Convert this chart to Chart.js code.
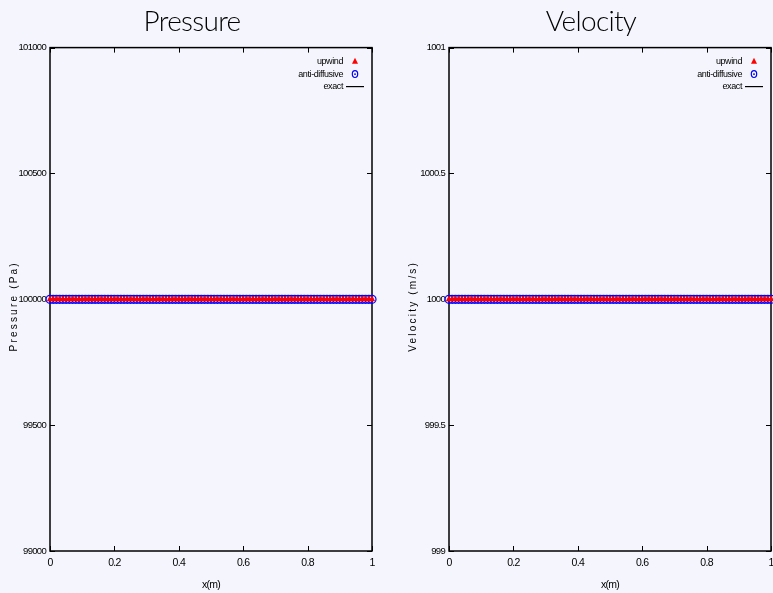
<!DOCTYPE html>
<html><head><meta charset="utf-8">
<script src="https://cdn.jsdelivr.net/npm/chart.js@4.4.1/dist/chart.umd.min.js"></script>
<style>
html,body{margin:0;padding:0;background:#f5f6fd;overflow:hidden;width:773px;height:593px;}
#wrap{position:relative;width:773px;height:593px;overflow:hidden;}
canvas{position:absolute;top:0;}
#c1{left:0px;}
#c2{left:399px;}
</style></head><body>
<div id="wrap">
<canvas id="c1" width="386" height="593"></canvas>
<canvas id="c2" width="386" height="593"></canvas>
</div>
<script>
// ---- data ----
const xGrid = [0,0.01,0.02,0.03,0.04,0.05,0.06,0.07,0.08,0.09,0.1,0.11,0.12,0.13,0.14,0.15,0.16,0.17,0.18,0.19,
0.2,0.21,0.22,0.23,0.24,0.25,0.26,0.27,0.28,0.29,0.3,0.31,0.32,0.33,0.34,0.35,0.36,0.37,0.38,0.39,
0.4,0.41,0.42,0.43,0.44,0.45,0.46,0.47,0.48,0.49,0.5,0.51,0.52,0.53,0.54,0.55,0.56,0.57,0.58,0.59,
0.6,0.61,0.62,0.63,0.64,0.65,0.66,0.67,0.68,0.69,0.7,0.71,0.72,0.73,0.74,0.75,0.76,0.77,0.78,0.79,
0.8,0.81,0.82,0.83,0.84,0.85,0.86,0.87,0.88,0.89,0.9,0.91,0.92,0.93,0.94,0.95,0.96,0.97,0.98,0.99,1];
const pressureUpwind = [100000,100000,100000,100000,100000,100000,100000,100000,100000,100000,
100000,100000,100000,100000,100000,100000,100000,100000,100000,100000,
100000,100000,100000,100000,100000,100000,100000,100000,100000,100000,
100000,100000,100000,100000,100000,100000,100000,100000,100000,100000,
100000,100000,100000,100000,100000,100000,100000,100000,100000,100000,
100000,100000,100000,100000,100000,100000,100000,100000,100000,100000,
100000,100000,100000,100000,100000,100000,100000,100000,100000,100000,
100000,100000,100000,100000,100000,100000,100000,100000,100000,100000,
100000,100000,100000,100000,100000,100000,100000,100000,100000,100000,
100000,100000,100000,100000,100000,100000,100000,100000,100000,100000,100000];
const pressureAnti = [100000,100000,100000,100000,100000,100000,100000,100000,100000,100000,
100000,100000,100000,100000,100000,100000,100000,100000,100000,100000,
100000,100000,100000,100000,100000,100000,100000,100000,100000,100000,
100000,100000,100000,100000,100000,100000,100000,100000,100000,100000,
100000,100000,100000,100000,100000,100000,100000,100000,100000,100000,
100000,100000,100000,100000,100000,100000,100000,100000,100000,100000,
100000,100000,100000,100000,100000,100000,100000,100000,100000,100000,
100000,100000,100000,100000,100000,100000,100000,100000,100000,100000,
100000,100000,100000,100000,100000,100000,100000,100000,100000,100000,
100000,100000,100000,100000,100000,100000,100000,100000,100000,100000,100000];
const exactX = [0, 1];
const pressureExact = [100000, 100000];
const velocityUpwind = [1000,1000,1000,1000,1000,1000,1000,1000,1000,1000,
1000,1000,1000,1000,1000,1000,1000,1000,1000,1000,
1000,1000,1000,1000,1000,1000,1000,1000,1000,1000,
1000,1000,1000,1000,1000,1000,1000,1000,1000,1000,
1000,1000,1000,1000,1000,1000,1000,1000,1000,1000,
1000,1000,1000,1000,1000,1000,1000,1000,1000,1000,
1000,1000,1000,1000,1000,1000,1000,1000,1000,1000,
1000,1000,1000,1000,1000,1000,1000,1000,1000,1000,
1000,1000,1000,1000,1000,1000,1000,1000,1000,1000,
1000,1000,1000,1000,1000,1000,1000,1000,1000,1000,1000];
const velocityAnti = [1000,1000,1000,1000,1000,1000,1000,1000,1000,1000,
1000,1000,1000,1000,1000,1000,1000,1000,1000,1000,
1000,1000,1000,1000,1000,1000,1000,1000,1000,1000,
1000,1000,1000,1000,1000,1000,1000,1000,1000,1000,
1000,1000,1000,1000,1000,1000,1000,1000,1000,1000,
1000,1000,1000,1000,1000,1000,1000,1000,1000,1000,
1000,1000,1000,1000,1000,1000,1000,1000,1000,1000,
1000,1000,1000,1000,1000,1000,1000,1000,1000,1000,
1000,1000,1000,1000,1000,1000,1000,1000,1000,1000,
1000,1000,1000,1000,1000,1000,1000,1000,1000,1000,1000];
const velocityExact = [1000, 1000];
const xTicks = [0, 0.2, 0.4, 0.6, 0.8, 1];
const pressureTicks = [99000, 99500, 100000, 100500, 101000];
const velocityTicks = [999, 999.5, 1000, 1000.5, 1001];
const seriesNames = ['upwind', 'anti-diffusive', 'exact'];

// ---- decoration plugin (frame, inward ticks, legend, y title) ----
const decor = {
  id: 'decor',
  beforeDraw(chart) {
    // condensed look for the axis texts
    chart.ctx.letterSpacing = '-0.7px';
  },
  beforeDatasetsDraw(chart) {
    const ctx = chart.ctx, a = chart.chartArea;
    const xs = chart.scales.x, ys = chart.scales.y;
    ctx.save();
    ctx.strokeStyle = '#000';
    ctx.lineWidth = 1;
    ctx.beginPath();
    xs.ticks.forEach(t => {
      const px = Math.round(xs.getPixelForValue(t.value)) + 0.5;
      ctx.moveTo(px, a.bottom); ctx.lineTo(px, a.bottom - 5);
      ctx.moveTo(px, a.top); ctx.lineTo(px, a.top + 5);
    });
    ys.ticks.forEach(t => {
      const py = Math.round(ys.getPixelForValue(t.value)) + 0.5;
      ctx.moveTo(a.left, py); ctx.lineTo(a.left + 5, py);
      ctx.moveTo(a.right, py); ctx.lineTo(a.right - 5, py);
    });
    ctx.stroke();
    ctx.lineWidth = 1.5;
    ctx.strokeRect(a.left, a.top, a.right - a.left, a.bottom - a.top);
    ctx.restore();
  },
  afterDraw(chart, args, opts) {
    const ctx = chart.ctx, a = chart.chartArea;
    ctx.save();
    // legend
    ctx.letterSpacing = '-0.4px';
    ctx.font = '9px "Liberation Sans"';
    ctx.textAlign = 'right';
    ctx.textBaseline = 'middle';
    chart.data.datasets.forEach((ds, i) => {
      const y = a.top + 14 + i * 12.5;
      ctx.fillStyle = '#000';
      ctx.fillText(ds.label, a.right - 29, y);
      const sx = a.right - 17;
      if (i === 0) {
        ctx.fillStyle = ds.backgroundColor;
        ctx.beginPath();
        ctx.moveTo(sx, y - 3.8); ctx.lineTo(sx + 3, y + 2.2); ctx.lineTo(sx - 3, y + 2.2);
        ctx.closePath(); ctx.fill();
      } else if (i === 1) {
        ctx.strokeStyle = ds.borderColor; ctx.lineWidth = 1.2;
        ctx.beginPath(); ctx.ellipse(sx, y, 2.7, 3.4, 0, 0, Math.PI * 2); ctx.stroke();
        ctx.beginPath(); ctx.moveTo(sx - 1, y); ctx.lineTo(sx + 1, y); ctx.stroke();
      } else {
        ctx.strokeStyle = ds.borderColor; ctx.lineWidth = 1.2;
        ctx.beginPath(); ctx.moveTo(sx - 9, y); ctx.lineTo(sx + 9, y); ctx.stroke();
      }
    });
    // y title
    ctx.translate(17, (a.top + a.bottom) / 2 + 7);
    ctx.rotate(-Math.PI / 2);
    ctx.font = '10px "Liberation Sans"';
    ctx.letterSpacing = '2.2px';
    ctx.textAlign = 'center';
    ctx.textBaseline = 'alphabetic';
    ctx.fillStyle = '#000';
    ctx.fillText(opts.yTitle, 0, 0);
    ctx.restore();
    ctx.letterSpacing = '0px';
  }
};

function makeChart(id, title, yTitle, yTicks, upwind, anti, exact) {
  const pts = (xx, yy) => xx.map((x, i) => ({x: x, y: yy[i]}));
  return new Chart(document.getElementById(id), {
    type: 'scatter',
    data: {
      datasets: [
        {label: seriesNames[0], data: pts(xGrid, upwind), pointStyle: 'triangle', pointRadius: 3.8,
         backgroundColor: '#ff0000', borderColor: '#ff0000', borderWidth: 0, showLine: false, clip: false},
        {label: seriesNames[1], data: pts(xGrid, anti), pointStyle: 'circle', pointRadius: 4,
         backgroundColor: 'rgba(0,0,0,0)', borderColor: '#0000ff', borderWidth: 1.2, showLine: false, clip: false},
        {label: seriesNames[2], data: pts(exactX, exact), showLine: true, pointRadius: 0,
         borderColor: '#000000', borderWidth: 1.8, clip: false}
      ]
    },
    options: {
      responsive: false, animation: false, events: [],
      layout: {padding: {left: 0, right: 2, top: 0, bottom: 0}},
      plugins: {
        legend: {display: false}, tooltip: {enabled: false},
        title: {display: true, text: title, color: '#000',
                font: {family: 'Lato', size: 28, weight: 300}, padding: {top: 5, bottom: 9}},
        decor: {yTitle: yTitle}
      },
      scales: {
        x: {
          type: 'linear', min: 0, max: 1,
          grid: {display: false, drawTicks: false}, border: {display: false},
          afterBuildTicks: s => { s.ticks = xTicks.map(v => ({value: v})); },
          ticks: {callback: v => String(v), color: '#000', font: {family: 'Liberation Sans', size: 10.5},
                  padding: 6, maxRotation: 0, autoSkip: false},
          title: {display: true, text: 'x(m)', color: '#000', font: {family: 'Liberation Sans', size: 10.5},
                  padding: {top: 0, bottom: 2}},
          afterFit: s => { s.height = 42; }
        },
        y: {
          type: 'linear', min: yTicks[0], max: yTicks[yTicks.length - 1],
          grid: {display: false, drawTicks: false}, border: {display: false},
          afterBuildTicks: s => { s.ticks = yTicks.map(v => ({value: v})); },
          ticks: {callback: v => String(v), color: '#000', font: {family: 'Liberation Sans', size: 9.5},
                  padding: 4, autoSkip: false},
          afterFit: s => { s.width = 50; }
        },
        yr: {
          type: 'linear', position: 'right', display: true,
          grid: {display: false, drawTicks: false}, border: {display: false},
          ticks: {display: false},
          afterFit: s => { s.width = 12; }
        }
      }
    },
    plugins: [decor]
  });
}

makeChart('c1', 'Pressure', 'Pressure (Pa)', pressureTicks, pressureUpwind, pressureAnti, pressureExact);
makeChart('c2', 'Velocity', 'Velocity (m/s)', velocityTicks, velocityUpwind, velocityAnti, velocityExact);
</script>
</body></html>
